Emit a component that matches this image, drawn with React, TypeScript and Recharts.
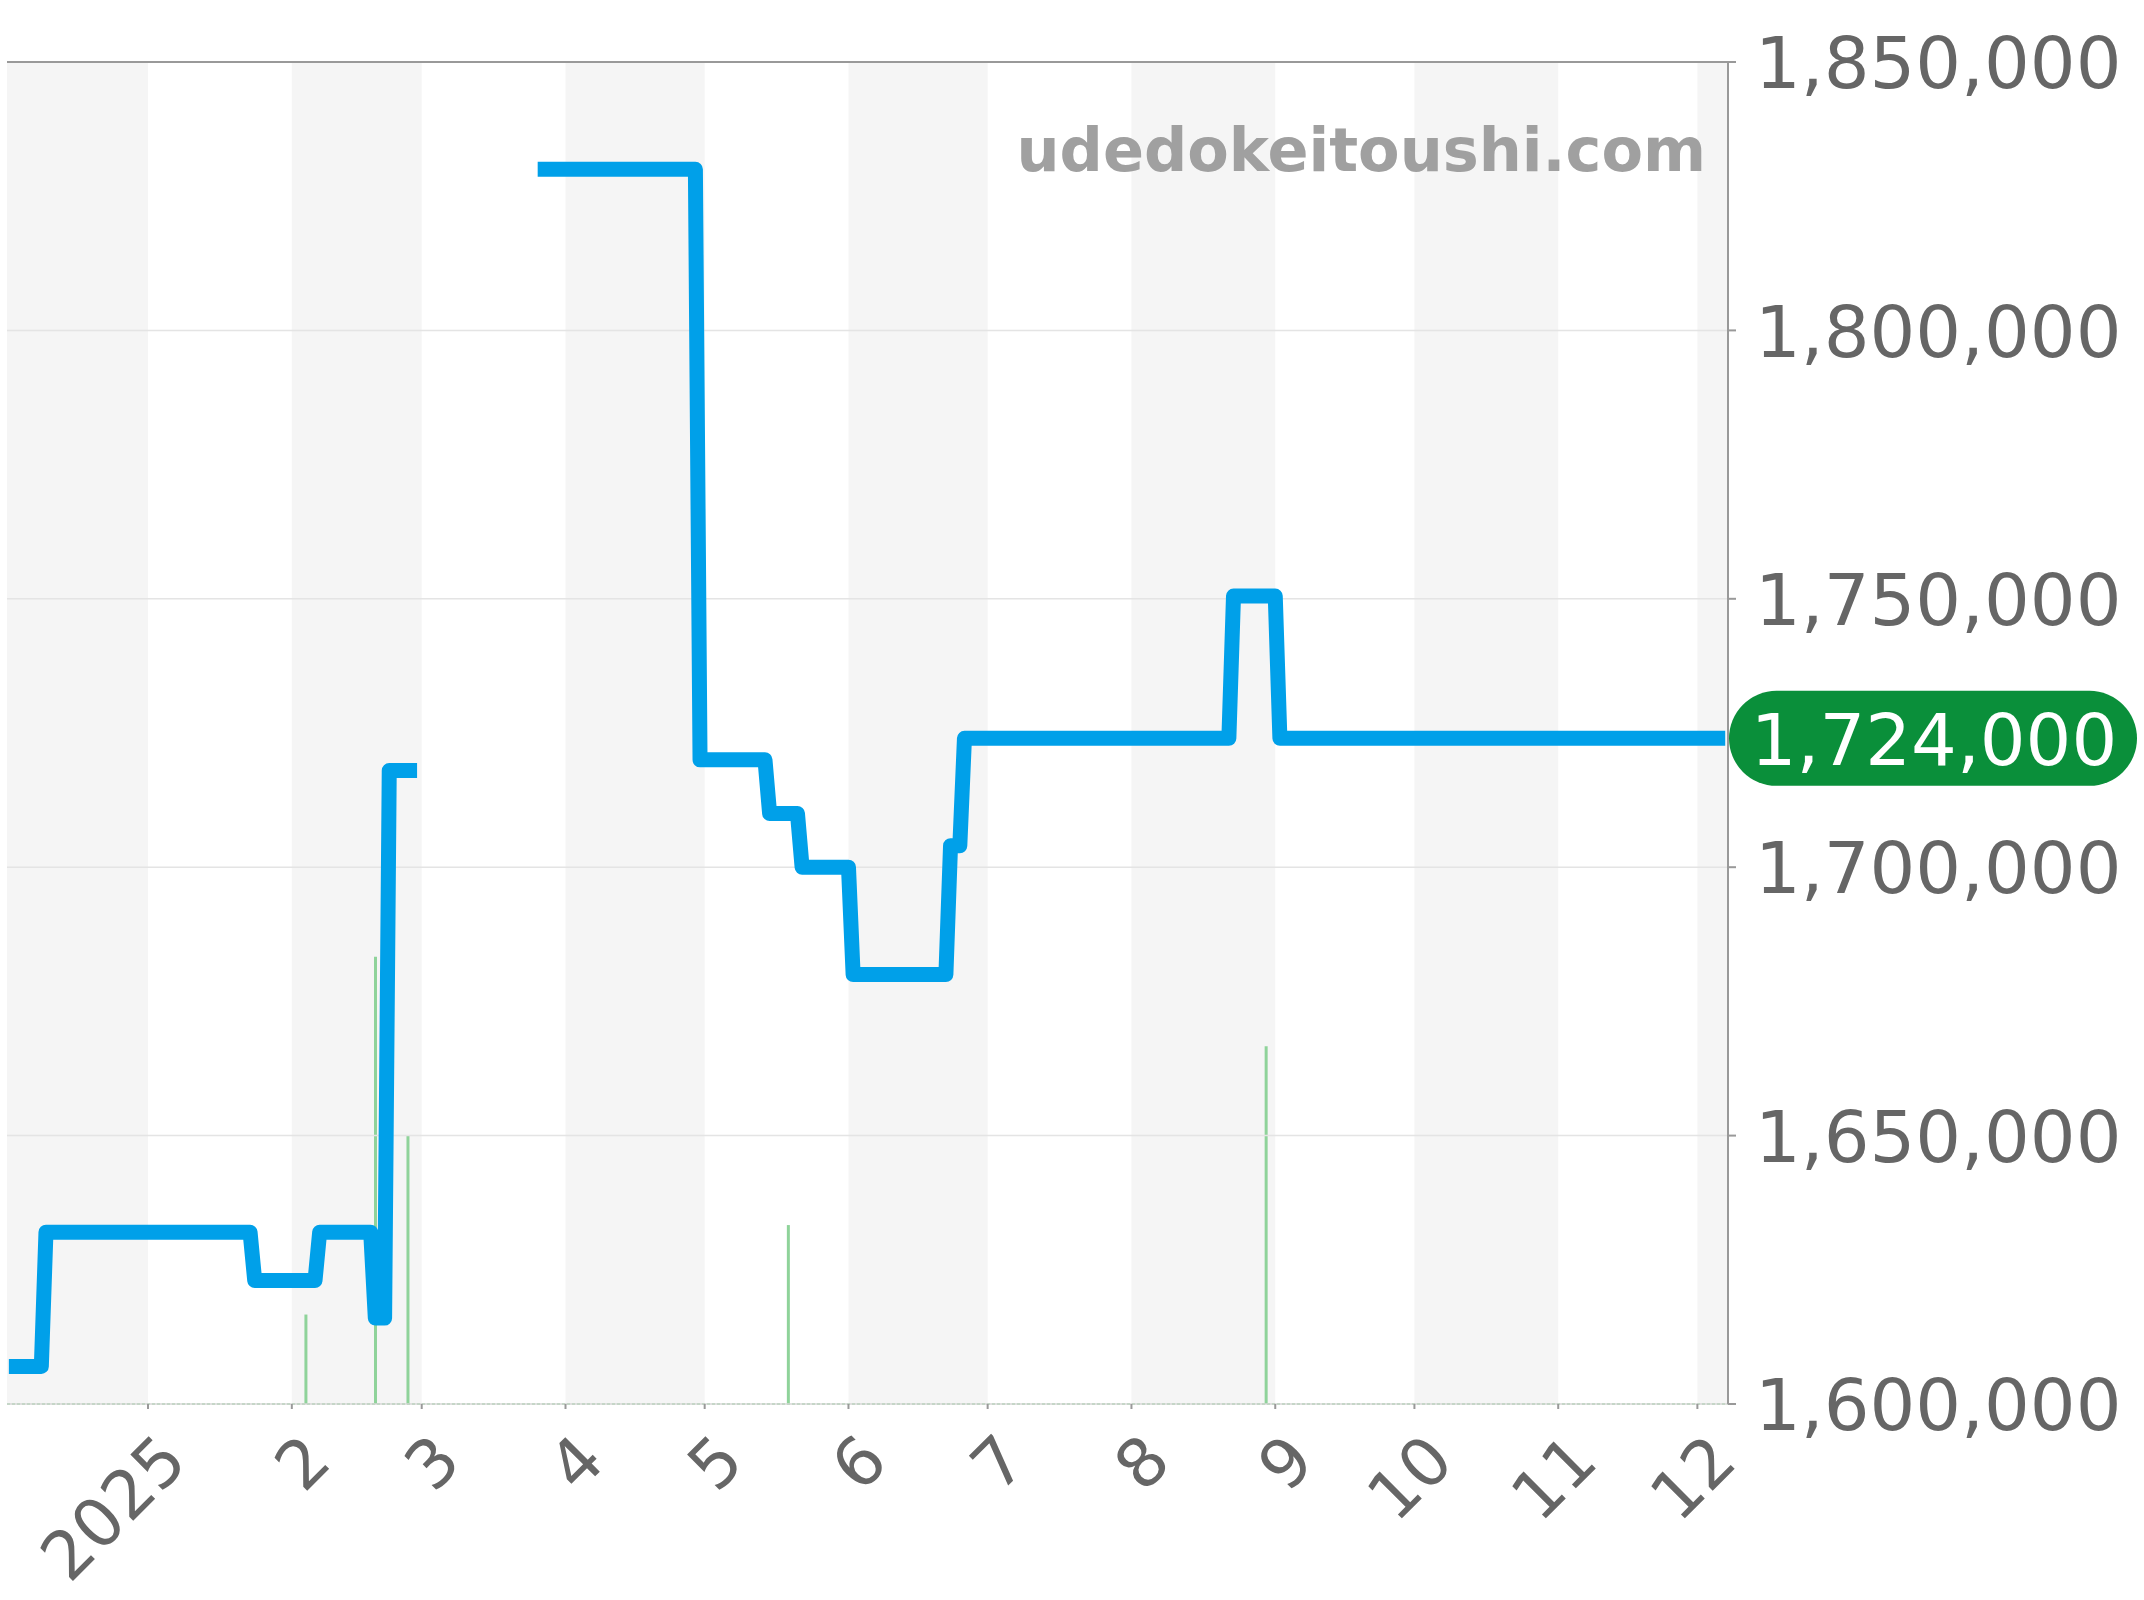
import React from 'react';
import {
  ComposedChart,
  Line,
  Bar,
  XAxis,
  YAxis,
  ReferenceArea,
  ReferenceLine,
} from 'recharts';

// ---------- data ----------
// Step points of the price line (null = no data, breaks the line)
const priceDates = [
  '2024-12-02', '2024-12-09', '2024-12-10', '2025-01-23', '2025-01-24', '2025-02-06',
  '2025-02-07', '2025-02-18', '2025-02-19', '2025-02-21', '2025-02-22', '2025-02-28',
  '2025-03-12',
  '2025-03-26', '2025-04-29', '2025-04-30', '2025-05-14', '2025-05-15', '2025-05-21',
  '2025-05-22', '2025-06-01', '2025-06-02', '2025-06-22', '2025-06-23', '2025-06-25',
  '2025-06-26', '2025-08-22', '2025-08-23', '2025-09-01', '2025-09-02', '2025-12-07',
];
const priceValues: (number | null)[] = [
  1607000, 1607000, 1632000, 1632000, 1623000, 1623000,
  1632000, 1632000, 1616000, 1616000, 1718000, 1718000,
  null,
  1830000, 1830000, 1720000, 1720000, 1710000, 1710000,
  1700000, 1700000, 1680000, 1680000, 1704000, 1704000,
  1724000, 1724000, 1750500, 1750500, 1724000, 1724000,
];

// Listing counts (green spikes)
const volDates = ['2025-02-04', '2025-02-19', '2025-02-26', '2025-05-19', '2025-08-30'];
const volValues = [1, 5, 3, 2, 4];

// Axis ticks
const tickDates = [
  '2025-01-01', '2025-02-01', '2025-03-01', '2025-04-01', '2025-05-01', '2025-06-01',
  '2025-07-01', '2025-08-01', '2025-09-01', '2025-10-01', '2025-11-01', '2025-12-01',
];
const tickLabels = ['2025', '2', '3', '4', '5', '6', '7', '8', '9', '10', '11', '12'];
const yTicks = [1600000, 1650000, 1700000, 1750000, 1800000, 1850000];
const gridValues = [1650000, 1700000, 1750000, 1800000];

// Shaded months
const shadeStarts = ['2024-12-01', '2025-02-01', '2025-04-01', '2025-06-01', '2025-08-01', '2025-10-01', '2025-12-01'];
const shadeEnds = ['2025-01-01', '2025-03-01', '2025-05-01', '2025-07-01', '2025-09-01', '2025-11-01', '2026-01-01'];

const lastPrice = 1724000;
const watermark = 'udedokeitoushi.com';

// ---------- helpers ----------
const DAY = 86400000;
const toT = (s: string) => {
  const [y, m, d] = s.split('-').map(Number);
  return Date.UTC(y, m - 1, d);
};

const priceRows = priceDates.map((s, i) => ({ t: toT(s), price: priceValues[i] }));
const volRows = volDates.map((s, i) => ({ t: toT(s), vol: volValues[i] }));
const tickTimes = tickDates.map(toT);
const tickLabelMap: Record<number, string> = {};
tickTimes.forEach((t, i) => (tickLabelMap[t] = tickLabels[i]));

const xMin = toT('2024-12-02') - 0.4 * DAY;
const xMax = toT('2025-12-07') + 0.6 * DAY;

const FONT = '"DejaVu Sans", sans-serif';
const fmt = (v: number) => v.toLocaleString('en-US');

const XTick = (props: any) => {
  const { x, y, payload } = props;
  const ax = x + 42;
  const ay = y + 53;
  return (
    <text
      x={ax}
      y={ay}
      textAnchor="end"
      transform={`rotate(-45 ${ax} ${ay})`}
      fontFamily={FONT}
      fontSize={67}
      fill="#666"
    >
      {tickLabelMap[payload.value] ?? ''}
    </text>
  );
};

const YTick = (props: any) => {
  const { x, y, payload } = props;
  return (
    <text x={x} y={y} dy="0.365em" textAnchor="start" fontFamily={FONT} fontSize={72} fill="#666">
      {fmt(payload.value)}
    </text>
  );
};

const Pill = (props: any) => {
  const vb = props.viewBox || {};
  const left = vb.x + vb.width + 1;
  const w = 408;
  const h = 95;
  const cy = vb.y;
  return (
    <g>
      <rect x={left} y={cy - h / 2} width={w} height={h} rx={h / 2} ry={h / 2} fill="#0a8f3a" />
      <text
        x={left + w / 2 + 1}
        y={cy}
        dy="0.365em"
        textAnchor="middle"
        fontFamily={FONT}
        fontSize={72}
        fill="#fff"
      >
        {fmt(lastPrice)}
      </text>
    </g>
  );
};

const Watermark = (props: any) => {
  const vb = props.viewBox || {};
  return (
    <text
      x={vb.x + vb.width - 22}
      y={vb.y + 109}
      textAnchor="end"
      fontFamily={FONT}
      fontWeight="bold"
      fontSize={60.5}
      fill="#a0a0a0"
    >
      {watermark}
    </text>
  );
};

export default function App() {
  return (
    <div style={{ position: 'absolute', left: 0, top: 0, width: 2144, height: 1600, background: '#fff' }}>
      <ComposedChart
        width={2144}
        height={1600}
        data={volRows}
        margin={{ top: 62, right: 0, bottom: 0, left: 7 }}
      >
        <XAxis
          dataKey="t"
          type="number"
          domain={[xMin, xMax]}
          allowDataOverflow
          ticks={tickTimes}
          tick={<XTick />}
          tickSize={5}
          height={196}
          interval={0}
          axisLine={{ stroke: '#d6d6d6', strokeWidth: 1.5 }}
          tickLine={{ stroke: '#999', strokeWidth: 2 }}
        />
        <YAxis
          yAxisId="price"
          orientation="right"
          domain={[1600000, 1850000]}
          ticks={yTicks}
          allowDataOverflow
          width={416}
          tickSize={8}
          tickMargin={19}
          tick={<YTick />}
          interval={0}
          axisLine={{ stroke: '#999', strokeWidth: 2 }}
          tickLine={{ stroke: '#999', strokeWidth: 2 }}
        />
        <YAxis yAxisId="vol" hide domain={[0, 15]} allowDataOverflow />

        {shadeStarts.map((s, i) => (
          <ReferenceArea
            key={'shade' + i}
            yAxisId="price"
            x1={toT(s)}
            x2={toT(shadeEnds[i])}
            ifOverflow="hidden"
            fill="#f5f5f5"
            fillOpacity={1}
            stroke="none"
          />
        ))}

        {gridValues.map((v) => (
          <ReferenceLine key={'g' + v} yAxisId="price" y={v} stroke="#e4e4e4" strokeWidth={1.5} />
        ))}

        <ReferenceLine
          yAxisId="price"
          y={1850000}
          stroke="#999"
          strokeWidth={2}
          label={(p: any) => <Watermark {...p} />}
        />

        <ReferenceLine
          yAxisId="vol"
          y={0}
          stroke="#93d59d"
          strokeWidth={2}
          strokeDasharray="3 2"
        />

        <Bar
          yAxisId="vol"
          dataKey="vol"
          fill="#8fd39a"
          barSize={3}
          isAnimationActive={false}
        />

        <Line
          yAxisId="price"
          data={priceRows}
          dataKey="price"
          type="linear"
          stroke="#00a0e9"
          strokeWidth={15}
          strokeLinejoin="round"
          strokeLinecap="butt"
          dot={false}
          activeDot={false}
          connectNulls={false}
          isAnimationActive={false}
        />

        <ReferenceLine
          yAxisId="price"
          y={lastPrice}
          stroke="none"
          label={(p: any) => <Pill {...p} />}
        />
      </ComposedChart>
    </div>
  );
}
